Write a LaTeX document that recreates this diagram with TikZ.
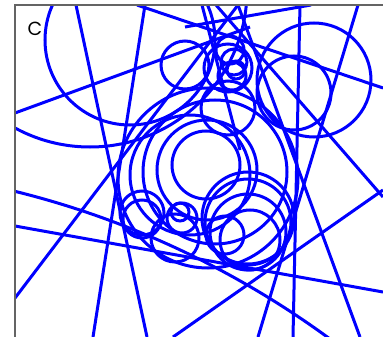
\documentclass[tikz,border=0pt]{standalone}
\usepackage{fontspec}
\newfontfamily\labfont{Poppins}
\begin{document}
\begin{tikzpicture}[x=1pt,y=-1pt,
  geo/.style={draw={rgb,255:red,0;green,0;blue,255},line width=3pt},
  framel/.style={draw={rgb,255:red,100;green,100;blue,100},line width=1.4pt}]
\useasboundingbox (0,0) rectangle (383,337);
\begin{scope}
\clip (15,5) rectangle (383,337);
% straight lines
\draw[geo] (15,113) -- (250,27);
\draw[geo] (76,5) -- (147,337);
\draw[geo] (145,5) -- (93,337);
\draw[geo] (15,298) -- (238,5);
\draw[geo] (137,5) -- (383,88);
\draw[geo] (311,5) -- (185,27);
\draw[geo] (300,5) -- (293,337);
\draw[geo] (358,5) -- (258,337);
\draw[geo] (216,5) -- (383,197);
\draw[geo] (238,5) -- (360,337);
\draw[geo] (15,226) -- (383,292);
\draw[geo] (383,190) -- (173,337);
\draw[geo] (202,5) -- (240,150);
% big arcs
\draw[geo] (-202,1065) circle (900);
\draw[geo] (130,40) circle (85);
\draw[geo] (90,-10) circle (157);
% right circles
\draw[geo] (314,80) circle (57);
\draw[geo] (294,93) circle (37);
% top-left middle circle
\draw[geo] (185,65) circle (24);
% small top cluster
\draw[geo] (230,50) circle (14);
\draw[geo] (234,62) circle (13);
\draw[geo] (236,70) circle (9);
\draw[geo] (232,76) circle (14);
\draw[geo] (228,68) circle (24);
\draw[geo] (228,108) circle (27);
% main cluster
\draw[geo] (208,178) circle (90);
\draw[geo] (215,172) circle (72);
\draw[geo] (190,175) circle (60);
\draw[geo] (207,170) circle (50);
\draw[geo] (206,165) circle (34);
% bottom right thick circle group
\draw[geo] (248,218) circle (46);
\draw[geo] (248,222) circle (43);
\draw[geo] (248,232) circle (38);
\draw[geo] (250,240) circle (30);
\draw[geo] (225,235) circle (19);
% left small circles
\draw[geo] (142,213) circle (22);
\draw[geo] (142,219) circle (19);
\draw[geo] (182,218) circle (15);
\draw[geo] (180,212) circle (9);
\draw[geo] (175,238) circle (24);
\end{scope}
\draw[framel] (15,337) -- (15,5) -- (383,5);
\node[font=\labfont\fontsize{19}{19}\selectfont,inner sep=0pt] (lab) at (35,29) {C};
\end{tikzpicture}
\end{document}
